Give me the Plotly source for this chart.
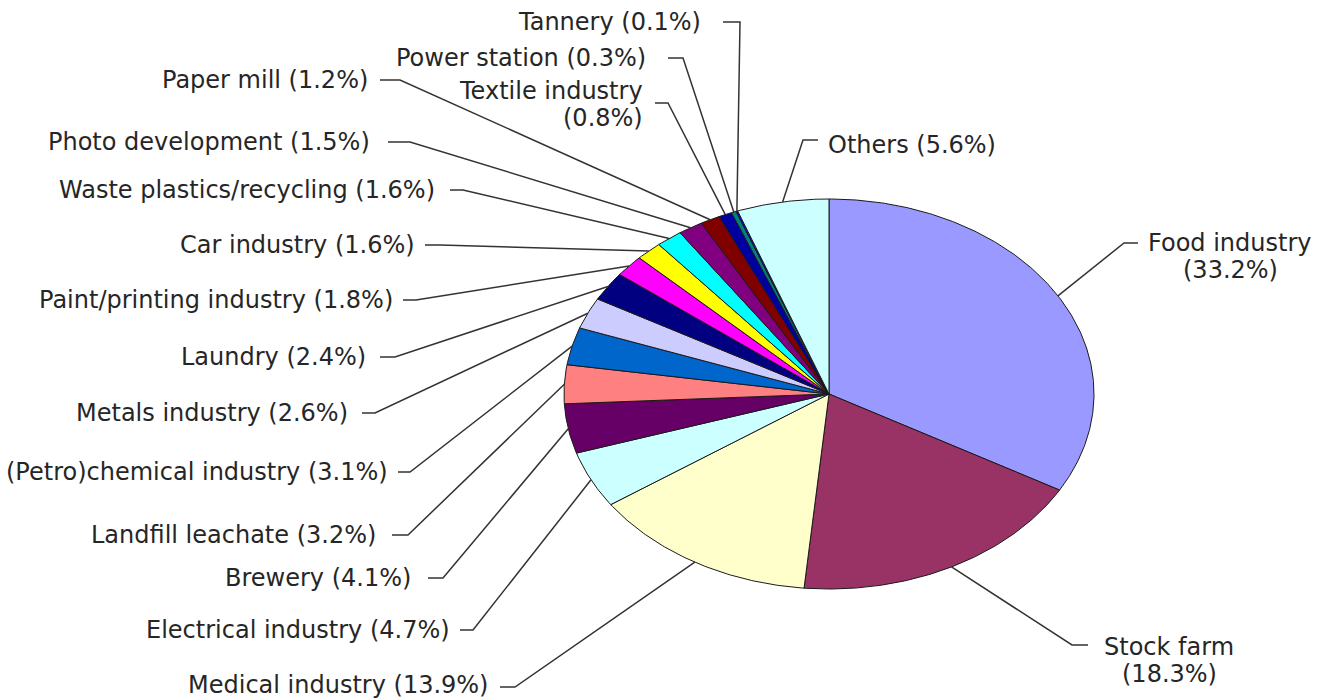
import numpy as np
import plotly.graph_objects as go

# ---- data ----
categories = ["Food industry", "Stock farm", "Medical industry", "Electrical industry",
              "Brewery", "Landfill leachate", "(Petro)chemical industry", "Metals industry",
              "Laundry", "Paint/printing industry", "Car industry", "Waste plastics/recycling",
              "Photo development", "Paper mill", "Textile industry", "Power station",
              "Tannery", "Others"]
values = [33.2, 18.3, 13.9, 4.7, 4.1, 3.2, 3.1, 2.6, 2.4, 1.8, 1.6, 1.6, 1.5, 1.2, 0.8, 0.3, 0.1, 5.6]
colors = ["#9999ff", "#993366", "#ffffcc", "#ccffff", "#660066", "#ff8080", "#0066cc",
          "#ccccff", "#000080", "#ff00ff", "#ffff00", "#00ffff", "#800080", "#800000",
          "#0000a0", "#008080", "#0000ff", "#ccffff"]

# ---- layout (pixels) ----
W, H = 1333, 700
CX, CY, RA, RB = 829, 394, 265, 195
FONT = dict(family="DejaVu Sans", size=24, color="#262626")
LINE_COLOR = "#333333"

# label layout: lines of text, text x, first-line y, xanchor, leader elbow (x0, x1, y)
label_layout = {
    "Food industry": (["Food industry", "(33.2%)"], 1230, 243, "center", (1138, 1124, 243)),
    "Stock farm": (["Stock farm", "(18.3%)"], 1169, 647, "center", (1088, 1072, 645)),
    "Medical industry": (None, 490, 685, "right", (500, 515, 687)),
    "Electrical industry": (None, 452, 630, "right", (460, 473, 630)),
    "Brewery": (None, 413, 578, "right", (428, 443, 578)),
    "Landfill leachate": (None, 378, 535, "right", (392, 408, 535)),
    "(Petro)chemical industry": (None, 390, 472, "right", (398, 410, 472)),
    "Metals industry": (None, 350, 413, "right", (362, 375, 413)),
    "Laundry": (None, 368, 357, "right", (380, 395, 357)),
    "Paint/printing industry": (None, 395, 300, "right", (403, 416, 300)),
    "Car industry": (None, 417, 245, "right", (425, 440, 245)),
    "Waste plastics/recycling": (None, 437, 190, "right", (450, 463, 190)),
    "Photo development": (None, 372, 142, "right", (388, 410, 142)),
    "Paper mill": (None, 370, 80, "right", (380, 400, 80)),
    "Textile industry": (["Textile industry", "(0.8%)"], 645, 91, "right", (655, 668, 103)),
    "Power station": (None, 648, 58, "right", (668, 683, 58)),
    "Tannery": (None, 703, 22, "right", (723, 740, 22)),
    "Others": (None, 826, 145, "left", (818, 803, 140)),
}
LINE_GAP = 27

fig = go.Figure()

total = sum(values)
cum = 0.0
mids = []
for name, v, c in zip(categories, values, colors):
    a0 = cum / total * 2 * np.pi
    a1 = (cum + v) / total * 2 * np.pi
    cum += v
    t = np.linspace(a0, a1, max(4, int(v * 6)))
    xs = np.concatenate([[CX], CX + RA * np.sin(t), [CX]])
    ys = np.concatenate([[CY], CY - RB * np.cos(t), [CY]])
    fig.add_trace(go.Scatter(x=xs, y=ys, fill="toself", fillcolor=c, mode="lines",
                             line=dict(color="#1a1a1a", width=1), hoverinfo="skip",
                             showlegend=False))
    mids.append((a0 + a1) / 2)

annotations = []
for name, v, am in zip(categories, values, mids):
    lines, tx, ty, anchor, (ex0, ex1, ey) = label_layout[name]
    if lines is None:
        lines = [f"{name} ({v}%)"]
    for i, ln in enumerate(lines):
        annotations.append(dict(x=tx, y=ty + i * LINE_GAP, text=ln, showarrow=False,
                                xanchor=anchor, yanchor="middle", font=FONT,
                                xref="x", yref="y"))
    px = CX + RA * np.sin(am)
    py = CY - RB * np.cos(am)
    fig.add_trace(go.Scatter(x=[ex0, ex1, px], y=[ey, ey, py], mode="lines",
                             line=dict(color=LINE_COLOR, width=1.5), hoverinfo="skip",
                             showlegend=False))

fig.update_layout(
    width=W, height=H, margin=dict(l=0, r=0, t=0, b=0),
    paper_bgcolor="white", plot_bgcolor="white",
    xaxis=dict(range=[0, W], visible=False, fixedrange=True),
    yaxis=dict(range=[H, 0], visible=False, fixedrange=True),
    annotations=annotations,
)

fig.write_html("out.html")
